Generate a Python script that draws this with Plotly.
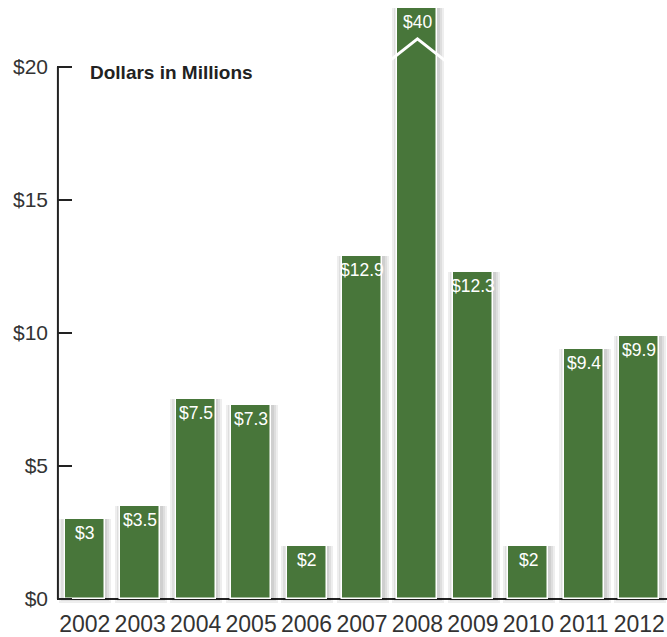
import plotly.graph_objects as go

# Annual amounts, in millions of dollars
years = ["2002", "2003", "2004", "2005", "2006", "2007",
         "2008", "2009", "2010", "2011", "2012"]
amounts = [3, 3.5, 7.5, 7.3, 2, 12.9, 40, 12.3, 2, 9.4, 9.9]

y_ticks = [0, 5, 10, 15, 20]
y_tick_labels = [f"${v}" for v in y_ticks]

BAR_GREEN = "#48763a"
INK = "#222222"
FONT = "Liberation Sans, Arial, sans-serif"

# Axis geometry: the value axis is broken above $20 so the 2008 bar runs off the top
Y_MIN, Y_MAX = -0.34, 22.21
PX_PER_UNIT_Y = 26.7
PX_PER_UNIT_X = 610 / 11
BAR_W = 0.722

xs = list(range(len(years)))

fig = go.Figure()

# soft drop shadow built from a few translucent, slightly larger bars
for d in (6, 4, 2):
    grow_y = d / PX_PER_UNIT_Y
    w = BAR_W + 2 * d / PX_PER_UNIT_X
    fig.add_trace(go.Bar(
        x=xs,
        y=[v + grow_y - (1.5 / PX_PER_UNIT_Y) for v in amounts],
        base=-grow_y + 1.5 / PX_PER_UNIT_Y,
        width=w,
        offset=-w / 2 + 0.7 / PX_PER_UNIT_X,
        marker=dict(color="rgba(0,0,0,0.065)", line=dict(width=0)),
        hoverinfo="skip",
        showlegend=False,
    ))

# main bars
fig.add_trace(go.Bar(
    x=xs,
    y=amounts,
    width=BAR_W,
    marker=dict(color=BAR_GREEN, line=dict(color="white", width=1.5)),
    showlegend=False,
))

# value labels sitting just inside the top of each bar
for x, v in zip(xs, amounts):
    fig.add_annotation(
        x=x, y=min(v, Y_MAX), xref="x", yref="y",
        text=f"${v:g}", showarrow=False,
        yanchor="top", xanchor="center", yshift=-2,
        font=dict(family=FONT, size=17.5, color="white"),
    )

# axis lines
fig.add_shape(type="line", xref="paper", yref="y", x0=0, x1=1, y0=0, y1=0,
              line=dict(color=INK, width=2), layer="below")
fig.add_shape(type="line", xref="paper", yref="y", x0=0.0015, x1=0.0015, y0=0, y1=20,
              line=dict(color=INK, width=2), layer="below")

# break marker across the truncated 2008 bar
brk = years.index("2008")
fig.add_shape(type="path",
              path=f"M {brk - 0.55},20.15 L {brk},21.05 L {brk + 0.55},20.15",
              xref="x", yref="y", line=dict(color="white", width=3))

fig.add_annotation(
    x=(88 - 57) / 610, xref="paper", y=19.8, yref="y",
    text="<b>Dollars in Millions</b>", showarrow=False,
    xanchor="left", yanchor="middle",
    font=dict(family=FONT, size=19, color=INK),
)

fig.update_layout(
    width=667, height=637,
    margin=dict(l=57, r=0, t=8, b=27),
    paper_bgcolor="white", plot_bgcolor="white",
    barmode="overlay", bargap=0,
    font=dict(family=FONT, color="#333333"),
    xaxis=dict(
        range=[-0.5, len(years) - 0.5],
        tickvals=xs, ticktext=years,
        showgrid=False, zeroline=False, showline=False, ticks="",
        tickfont=dict(size=23, color="#333333"),
        fixedrange=True,
    ),
    yaxis=dict(
        range=[Y_MIN, Y_MAX],
        tickvals=y_ticks, ticktext=y_tick_labels,
        showgrid=False, zeroline=False, showline=False,
        ticks="inside", ticklen=15, tickwidth=2, tickcolor=INK,
        tickfont=dict(size=21, color="#333333"),
        ticklabelstandoff=8,
        fixedrange=True,
    ),
)

fig.write_html("out.html")
